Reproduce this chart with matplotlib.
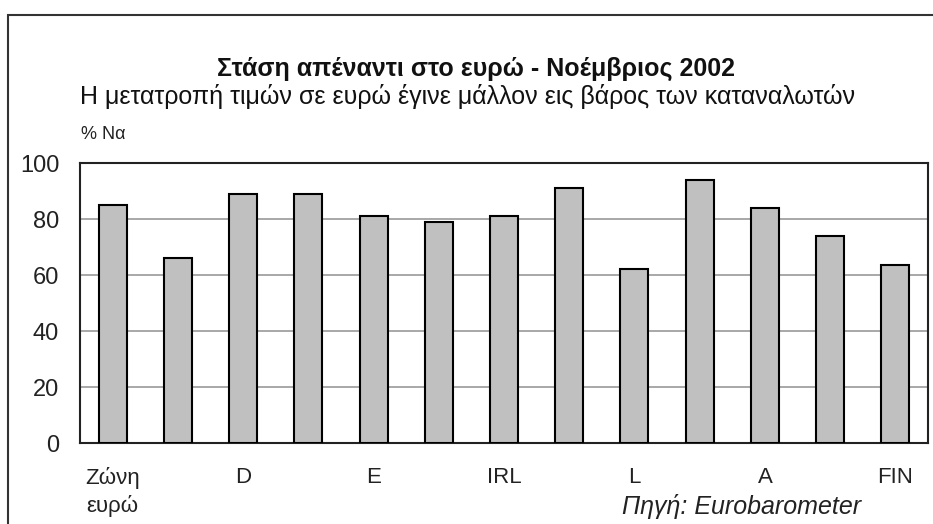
import matplotlib
matplotlib.use("Agg")
import matplotlib.pyplot as plt
from matplotlib.patches import Rectangle
import numpy as np

categories = ["Ζώνη\nευρώ", "B", "D", "EL", "E", "F", "IRL", "I", "L", "NL", "A", "P", "FIN"]
values = [85, 66, 89, 89, 81, 79, 81, 91, 62, 94, 84, 74, 63.6]
shown_labels = ["Ζώνη\nευρώ", "", "D", "", "E", "", "IRL", "", "L", "", "A", "", "FIN"]
yticks = [0, 20, 40, 60, 80, 100]

title = "Στάση απέναντι στο ευρώ - Νοέμβριος 2002"
subtitle = "Η μετατροπή τιμών σε ευρώ έγινε μάλλον εις βάρος των καταναλωτών"
ylabel = "% Να"
source = "Πηγή: Eurobarometer"

plt.rcParams['font.family'] = ['Liberation Sans', 'DejaVu Sans']

W, H = 933, 524
fig = plt.figure(figsize=(W / 100, H / 100), dpi=100)
fig.patch.set_facecolor("white")

# outer frame (cut off at right/bottom)
fig.patches.append(Rectangle((8 / W, -0.1), 1.2, (H - 15) / H + 0.1, transform=fig.transFigure,
                             fill=False, edgecolor="#333333", linewidth=1.5, zorder=0))

ax = fig.add_axes([80 / W, (H - 443) / H, (928 - 80) / W, (443 - 163) / H])
x = np.arange(len(categories))
ax.bar(x, values, width=0.43, color="#C0C0C0", edgecolor="black", linewidth=1.5, zorder=3)
ax.set_xlim(-0.5, len(categories) - 0.5)
ax.set_ylim(0, 100)
ax.set_yticks(yticks)
ax.set_yticklabels([str(t) for t in yticks], fontsize=17, color="#222222")
ax.set_xticks(x)
ax.set_xticklabels(shown_labels, fontsize=16, linespacing=1.35, va="top", color="#222222")
ax.tick_params(axis="both", length=0)
ax.tick_params(axis="x", pad=17)
ax.tick_params(axis="y", pad=15)
ax.yaxis.grid(True, color="#999999", linewidth=1.2, zorder=0)
for s in ax.spines.values():
    s.set_color("#222222")
    s.set_linewidth(1.5)

fig.text(476 / W, 1 - 76 / H, title, ha="center", va="baseline", fontsize=18, fontweight="bold", color="#111111")
fig.text(80 / W, 1 - 104 / H, subtitle, ha="left", va="baseline", fontsize=18, color="#111111")
fig.text(81 / W, 1 - 139 / H, ylabel, ha="left", va="baseline", fontsize=13, color="#222222")
fig.text(622 / W, 1 - 514 / H, source, ha="left", va="baseline", fontsize=18, style="italic", color="#222222")

fig.savefig("out.png", dpi=100, facecolor="white")
